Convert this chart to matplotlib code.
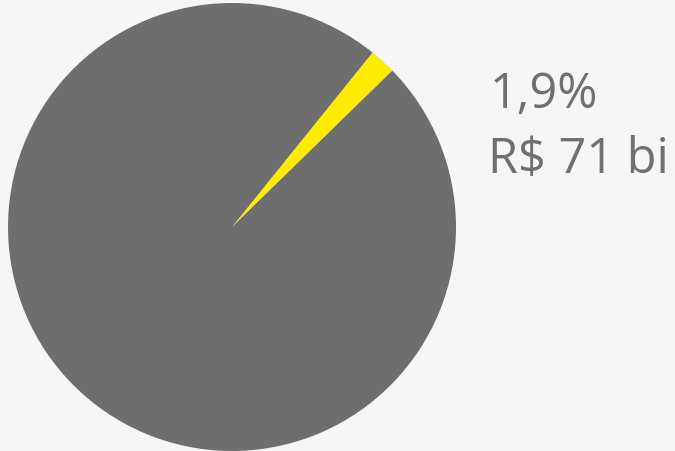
import matplotlib.pyplot as plt

# shares of the total (%)
labels = ["R$ 71 bi", "resto"]
shares = [1.9, 98.1]
colors = ["#ffec00", "#6e6e6e"]

pct_text = "1,9%"
value_text = "R$ 71 bi"

fig = plt.figure(figsize=(6.75, 4.51), dpi=100)
fig.patch.set_facecolor("#f6f6f6")

# pie placed on the left, almost full height
ax = fig.add_axes([8 / 675, 0.0, 448 / 675, 448 / 451])
ax.pie(shares, colors=colors, startangle=44.3, radius=1.0,
       wedgeprops=dict(linewidth=0))
ax.set_xlim(-1, 1)
ax.set_ylim(-1, 1)
ax.set_aspect("equal")
ax.axis("off")

fig.text(490 / 675, 1 - 108 / 451, pct_text, fontsize=35, color="#707070",
         family="Open Sans", ha="left", va="baseline")
fig.text(488 / 675, 1 - 173 / 451, value_text, fontsize=35, color="#707070",
         family="Open Sans", ha="left", va="baseline")

fig.savefig("out.png", dpi=100, facecolor=fig.get_facecolor())
